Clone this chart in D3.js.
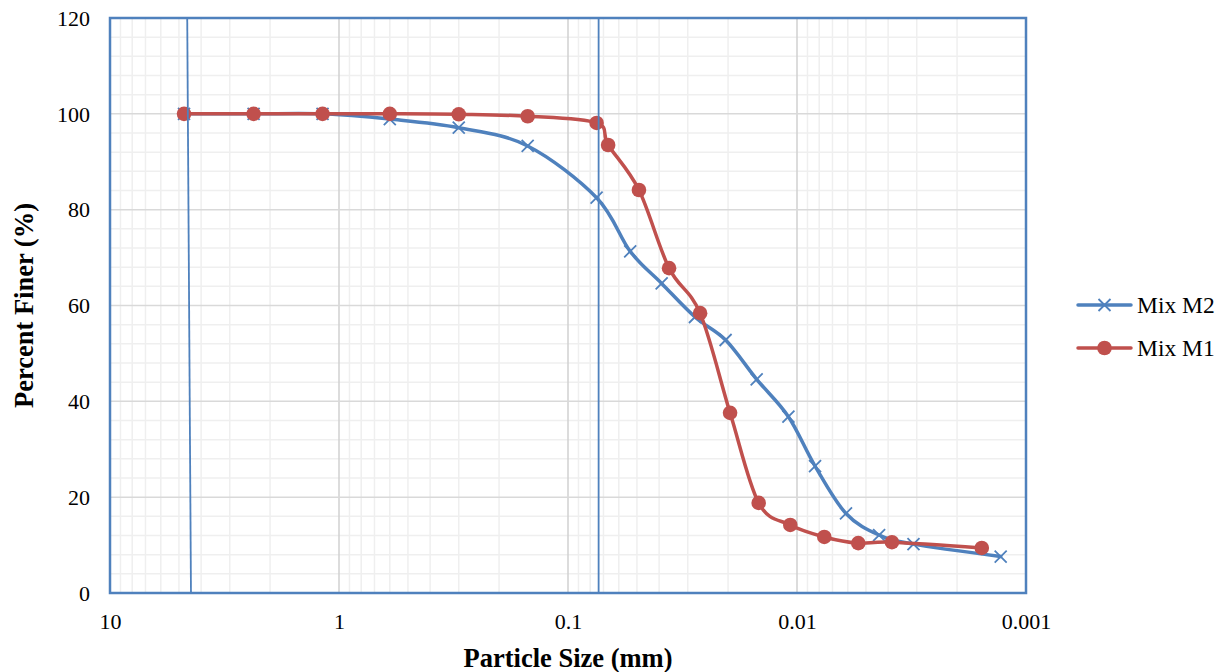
<!DOCTYPE html>
<html>
<head>
<meta charset="utf-8">
<script src="https://cdn.jsdelivr.net/npm/d3@7"></script>
<style>
  html, body { margin: 0; padding: 0; background: #fff; }
  svg { display: block; }
</style>
</head>
<body>
<svg id="chart" width="1223" height="672"></svg>
<script>
// Particle size distribution (sieve + hydrometer) for two mixes
const m2Size  = [4.75, 2.36, 1.18, 0.6, 0.3, 0.15, 0.075, 0.0535, 0.039, 0.0279, 0.0205, 0.0150, 0.0109, 0.00834, 0.00611, 0.00438, 0.0031, 0.00129];
const m2Finer = [100, 100, 100, 98.9, 97.1, 93.3, 82.5, 71.3, 64.6, 57.6, 52.8, 44.6, 36.8, 26.5, 16.6, 12.1, 10.2, 7.6];

const m1Size  = [4.75, 2.36, 1.18, 0.6, 0.3, 0.15, 0.075, 0.0668, 0.049, 0.0362, 0.0265, 0.0196, 0.0147, 0.0107, 0.0076, 0.0054, 0.00385, 0.00156];
const m1Finer = [100, 100, 100, 100, 99.9, 99.5, 98.1, 93.5, 84.1, 67.8, 58.4, 37.6, 18.8, 14.2, 11.7, 10.4, 10.6, 9.4];

// Vertical marker lines (gravel/sand and sand/fines limits)
const limitASize  = [4.6, 4.43];
const limitAFiner = [120, 0];
const limitBSize  = [0.0735, 0.0735];
const limitBFiner = [120, 0];

const xTickValues = [10, 1, 0.1, 0.01, 0.001];
const xTickLabels = ["10", "1", "0.1", "0.01", "0.001"];
const yTickValues = [0, 20, 40, 60, 80, 100, 120];

const seriesNames = ["Mix M2", "Mix M1"];

const blue = "#4f81bd";
const red = "#c0504d";
const serif = "'Liberation Serif', 'Times New Roman', serif";

const svg = d3.select("#chart");
const plot = { left: 110, right: 1026, top: 18, bottom: 593 };

const x = d3.scaleLog().domain([10, 0.001]).range([plot.left, plot.right]);
const y = d3.scaleLinear().domain([0, 120]).range([plot.bottom, plot.top]);

// Minor gridlines
const minorX = [];
for (let e = -3; e < 1; e++) {
  for (let k = 2; k <= 9; k++) minorX.push(k * Math.pow(10, e));
}
const minorY = d3.range(0, 121, 4).filter(v => v % 20 !== 0);

const grid = svg.append("g");
grid.selectAll(".mx").data(minorX).join("line")
  .attr("x1", d => x(d)).attr("x2", d => x(d))
  .attr("y1", plot.top).attr("y2", plot.bottom)
  .attr("stroke", "#efefef").attr("stroke-width", 1.5);
grid.selectAll(".my").data(minorY).join("line")
  .attr("x1", plot.left).attr("x2", plot.right)
  .attr("y1", d => y(d)).attr("y2", d => y(d))
  .attr("stroke", "#efefef").attr("stroke-width", 1.5);
// Major gridlines
grid.selectAll(".Mx").data([1, 0.1, 0.01]).join("line")
  .attr("x1", d => x(d)).attr("x2", d => x(d))
  .attr("y1", plot.top).attr("y2", plot.bottom)
  .attr("stroke", "#d0d0d0").attr("stroke-width", 1.5);
grid.selectAll(".My").data(yTickValues.filter(v => v > 0 && v < 120)).join("line")
  .attr("x1", plot.left).attr("x2", plot.right)
  .attr("y1", d => y(d)).attr("y2", d => y(d))
  .attr("stroke", "#d9d9d9").attr("stroke-width", 1.5);

// Axes (labels only; frame drawn separately)
const xAxis = d3.axisBottom(x).tickValues(xTickValues)
  .tickFormat((d, i) => xTickLabels[i]).tickSize(0).tickPadding(0);
const gx = svg.append("g").attr("transform", `translate(0,${plot.bottom})`).call(xAxis);
gx.select(".domain").remove();
gx.attr("font-family", serif).attr("font-size", 22);
gx.selectAll("text").attr("dy", null).attr("y", 36)
  .attr("font-family", serif).attr("font-size", 22).attr("fill", "#000");

const yAxis = d3.axisLeft(y).tickValues(yTickValues).tickSize(0).tickPadding(0);
const gy = svg.append("g").attr("transform", `translate(${plot.left},0)`).call(yAxis);
gy.select(".domain").remove();
gy.attr("font-family", serif).attr("font-size", 22);
gy.selectAll("text").attr("x", -20).attr("dy", "0.33em")
  .attr("font-family", serif).attr("font-size", 22).attr("fill", "#000");

// Data series
const line = d3.line()
  .x(d => x(d[0])).y(d => y(d[1]))
  .curve(d3.curveCatmullRom.alpha(0));

const m2 = m2Size.map((s, i) => [s, m2Finer[i]]);
const m1 = m1Size.map((s, i) => [s, m1Finer[i]]);

svg.append("path").datum(m2).attr("d", line)
  .attr("fill", "none").attr("stroke", blue).attr("stroke-width", 3.5)
  .attr("stroke-linejoin", "round").attr("stroke-linecap", "round");
const crossPath = "M-6,-6L6,6M-6,6L6,-6";
svg.append("g").selectAll("path").data(m2).join("path")
  .attr("transform", d => `translate(${x(d[0])},${y(d[1])})`)
  .attr("d", crossPath).attr("stroke", blue).attr("stroke-width", 1.8).attr("fill", "none");

svg.append("path").datum(m1).attr("d", line)
  .attr("fill", "none").attr("stroke", red).attr("stroke-width", 3.5)
  .attr("stroke-linejoin", "round").attr("stroke-linecap", "round");
svg.append("g").selectAll("circle").data(m1).join("circle")
  .attr("cx", d => x(d[0])).attr("cy", d => y(d[1])).attr("r", 7.3)
  .attr("fill", red);

// Limit lines
const straight = d3.line().x(d => x(d[0])).y(d => y(d[1]));
[[limitASize, limitAFiner], [limitBSize, limitBFiner]].forEach(([s, f]) => {
  svg.append("path").datum(s.map((v, i) => [v, f[i]])).attr("d", straight)
    .attr("fill", "none").attr("stroke", blue).attr("stroke-width", 1.8);
});

// Plot frame
svg.append("rect")
  .attr("x", plot.left).attr("y", plot.top)
  .attr("width", plot.right - plot.left).attr("height", plot.bottom - plot.top)
  .attr("fill", "none").attr("stroke", blue).attr("stroke-width", 2.5);

// Axis titles
svg.append("text")
  .attr("x", (plot.left + plot.right) / 2).attr("y", 667)
  .attr("text-anchor", "middle")
  .attr("font-family", serif)
  .attr("font-weight", "bold").attr("font-size", 26.5).attr("fill", "#000")
  .text("Particle Size (mm)");
svg.append("text")
  .attr("transform", `translate(33,${(plot.top + plot.bottom) / 2}) rotate(-90)`)
  .attr("text-anchor", "middle")
  .attr("font-family", serif)
  .attr("font-weight", "bold").attr("font-size", 26.5).attr("fill", "#000")
  .text("Percent Finer (%)");

// Legend
const legend = svg.append("g");
const legendItems = [
  { name: seriesNames[0], color: blue, marker: "cross", y: 305 },
  { name: seriesNames[1], color: red, marker: "circle", y: 348 }
];
legendItems.forEach(item => {
  legend.append("line")
    .attr("x1", 1078).attr("x2", 1131).attr("y1", item.y).attr("y2", item.y)
    .attr("stroke", item.color).attr("stroke-width", 3.5).attr("stroke-linecap", "round");
  if (item.marker === "cross") {
    legend.append("path").attr("transform", `translate(1104.5,${item.y})`)
      .attr("d", crossPath).attr("stroke", item.color).attr("stroke-width", 1.8);
  } else {
    legend.append("circle").attr("cx", 1104.5).attr("cy", item.y).attr("r", 7.3)
      .attr("fill", item.color);
  }
  legend.append("text")
    .attr("x", 1137).attr("y", item.y + 8)
    .attr("font-family", serif)
    .attr("font-size", 23.5).attr("fill", "#000")
    .text(item.name);
});
</script>
</body>
</html>
